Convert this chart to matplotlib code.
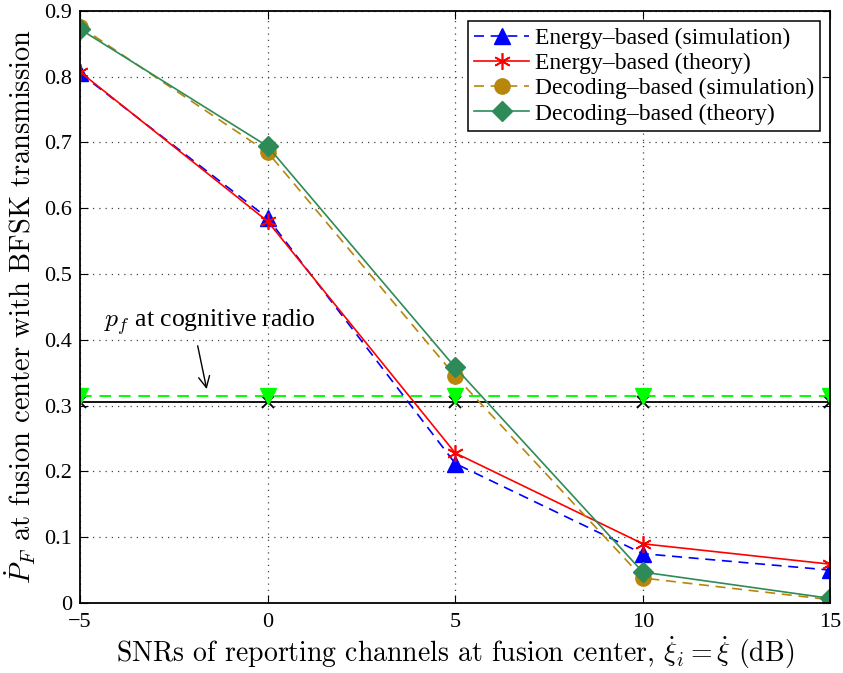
import numpy as np
import matplotlib.pyplot as plt

plt.rcParams['font.family'] = ['Liberation Serif', 'DejaVu Serif']
plt.rcParams['mathtext.fontset'] = 'cm'

snr = [-5, 0, 5, 10, 15]
energy_sim = [0.805, 0.585, 0.212, 0.075, 0.050]
energy_th = [0.807, 0.580, 0.228, 0.090, 0.059]
decoding_sim = [0.876, 0.685, 0.345, 0.038, 0.005]
decoding_th = [0.872, 0.694, 0.358, 0.047, 0.007]
pf_cr = [0.314] * 5
pf_ref = [0.305] * 5

fig = plt.figure(figsize=(8.43, 6.73), dpi=100)
ax = fig.add_axes([0.095, 0.104, 0.89, 0.88])

ax.plot(snr, pf_ref, '-', color='black', marker='x', ms=9, mew=1.3, lw=1.3)
ax.plot(snr, pf_cr, '--', color='#00ff00', marker='v', ms=12, lw=1.4, dashes=(6, 4))

ax.plot(snr, energy_sim, '--', color='blue', marker='^', ms=12, lw=1.2,
        dashes=(6, 4), label='Energy\u2013based (simulation)')
ax.plot(snr, energy_th, '-', color='red', marker=(6, 2, 0), ms=12, lw=1.2,
        mew=1.2, label='Energy\u2013based (theory)')
ax.plot(snr, decoding_sim, '--', color='#b8860b', marker='o', ms=11, lw=1.2,
        dashes=(6, 4), label='Decoding\u2013based (simulation)')
ax.plot(snr, decoding_th, '-', color='#2e8b57', marker='D', ms=10, lw=1.2,
        label='Decoding\u2013based (theory)')

# arrow pointing at the p_f reference line
ax.annotate('', xy=(-1.61, 0.321), xytext=(-1.88, 0.395),
            arrowprops=dict(arrowstyle='->', color='black', lw=1, mutation_scale=20))
ax.text(-4.35, 0.42, r'$p_f$ at cognitive radio', fontsize=18.5)

ax.set_xlim(-5, 15)
ax.set_ylim(0, 0.9)
ax.set_xticks([-5, 0, 5, 10, 15])
ax.set_xticklabels(['\u22125', '0', '5', '10', '15'])
ax.set_yticks(np.arange(0, 0.91, 0.1))
ax.set_yticklabels(['0', '0.1', '0.2', '0.3', '0.4', '0.5', '0.6', '0.7', '0.8', '0.9'])
ax.tick_params(direction='in', labelsize=16, length=6, top=True, right=True)
ax.tick_params(axis='x', pad=7)
ax.tick_params(axis='y', pad=6)
ax.grid(True, linestyle=(0, (1, 4)), color='#444444', lw=0.9)
for s in ax.spines.values():
    s.set_linewidth(1.3)

ax.set_xlabel(r'SNRs of reporting channels at fusion center, $\dot{\xi}_i = \dot{\xi}$ (dB)',
              fontsize=20, family='cmr10', labelpad=2)
ax.set_ylabel(r'$\dot{P}_F$ at fusion center with BFSK transmission',
              fontsize=20.5, family='cmr10', labelpad=4)

leg = ax.legend(loc='upper right', fontsize=17, fancybox=False, edgecolor='black',
                framealpha=1, borderpad=0.25, labelspacing=0.16, handlelength=2.3,
                handletextpad=0.25, borderaxespad=0.45)
leg.get_frame().set_linewidth(1.1)

fig.savefig('out.png', dpi=100)
